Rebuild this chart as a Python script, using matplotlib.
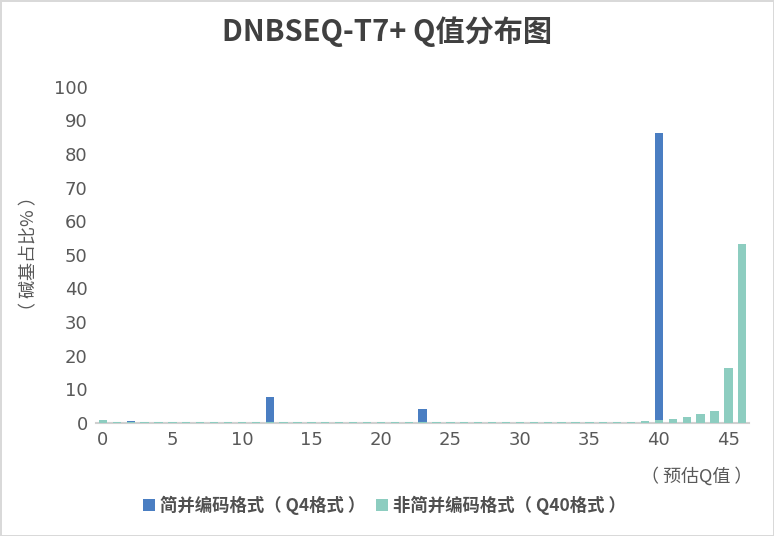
import numpy as np
import matplotlib
matplotlib.use("Agg")
import matplotlib.pyplot as plt

plt.rcParams["font.family"] = ["Noto Sans CJK SC", "DejaVu Sans"]

# Q values 0..46
q_values = list(range(47))

# 简并编码格式 (Q4): only a few bins carry data
degen_q = [2, 12, 23, 40]
degen_pct = [0.5, 7.8, 4.0, 86.3]

# 非简并编码格式 (Q40): one value per Q
nondegen_pct = [0.8] + [0.3] * 38 + [0.6, 1.0, 1.2, 1.9, 2.7, 3.6, 16.2, 53.3]

title = "DNBSEQ-T7+ Q值分布图"
ylabel = "（ 碱基占比% ）"
xlabel = "（ 预估Q值 ）"
legend_labels = ["简并编码格式（ Q4格式 ）", "非简并编码格式（ Q40格式 ）"]

blue = "#4A7EC2"
teal = "#8DCDC0"
text_c = "#595959"

fig = plt.figure(figsize=(7.74, 5.36), dpi=100)
fig.patch.set_edgecolor("#d9d9d9")
fig.patch.set_linewidth(2)
ax = fig.add_axes([0.124, 0.211, 0.844, 0.627])

b1 = ax.bar(degen_q, degen_pct, width=0.6, color=blue, zorder=2)
b2 = ax.bar(q_values, nondegen_pct, width=0.6, color=teal, zorder=3)

ax.set_xlim(-0.5, 46.5)
ax.set_ylim(0, 100)
ax.set_xticks(range(0, 46, 5))
ax.set_yticks(range(0, 101, 10))
ax.tick_params(axis="both", length=0, labelsize=13, colors=text_c, pad=6)
for lbl in ax.get_xticklabels() + ax.get_yticklabels():
    lbl.set_family("DejaVu Sans")
for s in ["top", "right", "left"]:
    ax.spines[s].set_visible(False)
ax.spines["bottom"].set_color("#d0d0d0")
ax.spines["bottom"].set_linewidth(1.5)

fig.text(0.5, 0.94, title, ha="center", va="center", fontsize=21, color="#404040", fontweight="bold")
fig.text(0.038, 0.527, ylabel, rotation=90, ha="center", va="center", fontsize=13, color=text_c)
fig.text(0.9, 0.112, xlabel, ha="center", va="center", fontsize=13, color=text_c)

fig.legend([b1, b2], legend_labels, loc="center", bbox_to_anchor=(0.497, 0.057), ncol=2,
           frameon=False, prop={"size": 12.5, "weight": "bold"}, handlelength=0.7, handleheight=0.7,
           handletextpad=0.3, columnspacing=0.6, labelcolor="#505050")

fig.savefig("out.png", dpi=100)
